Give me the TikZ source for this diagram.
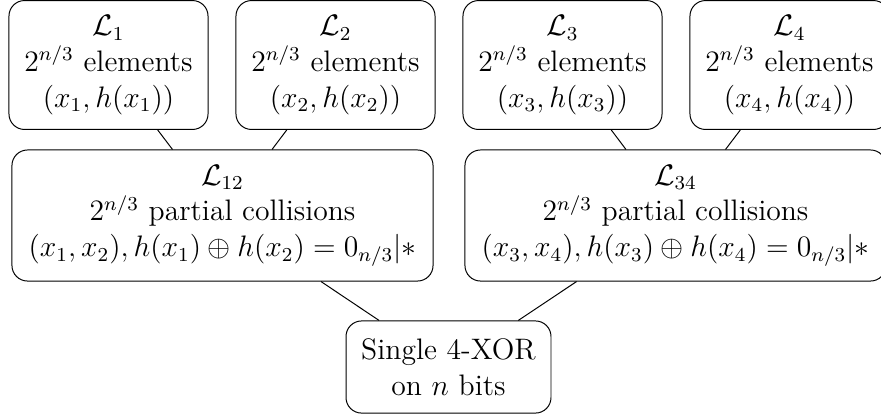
\documentclass[tikz,12pt,border=0pt]{standalone}
\usepackage{amsmath}
\begin{document}
\begin{tikzpicture}[x=0.4049pt,y=0.4049pt,
  box/.style={draw, rounded corners=6.3pt, align=center, inner sep=6pt},
  leaf/.style={box, minimum width=80.6pt, minimum height=52.2pt},
  mid/.style={box, minimum width=170.5pt, minimum height=52.2pt}]
\useasboundingbox (0,0) rectangle (881,-415);
\node[leaf] (l1) at (108.5,-65) {$\mathcal{L}_1$\\$2^{n/3}$ elements\\$(x_1,h(x_1))$};
\node[leaf] (l2) at (335.5,-65) {$\mathcal{L}_2$\\$2^{n/3}$ elements\\$(x_2,h(x_2))$};
\node[leaf] (l3) at (562.5,-65) {$\mathcal{L}_3$\\$2^{n/3}$ elements\\$(x_3,h(x_3))$};
\node[leaf] (l4) at (789.5,-65) {$\mathcal{L}_4$\\$2^{n/3}$ elements\\$(x_4,h(x_4))$};
\node[mid] (l12) at (222.5,-215.5) {$\mathcal{L}_{12}$\\$2^{n/3}$ partial collisions\\$(x_1,x_2), h(x_1)\oplus h(x_2)=0_{n/3}|*$};
\node[mid] (l34) at (675.5,-215.5) {$\mathcal{L}_{34}$\\$2^{n/3}$ partial collisions\\$(x_3,x_4), h(x_3)\oplus h(x_4)=0_{n/3}|*$};
\node[box, minimum width=83pt, minimum height=37.3pt] (r) at (448.5,-367) {Single 4-XOR\\on $n$ bits};
\draw (l1) -- (l12);
\draw (l2) -- (l12);
\draw (l3) -- (l34);
\draw (l4) -- (l34);
\draw (l12) -- (r);
\draw (l34) -- (r);
\end{tikzpicture}
\end{document}
